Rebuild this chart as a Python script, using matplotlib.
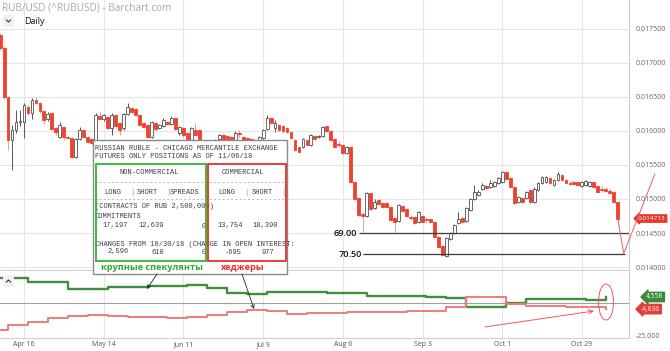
import numpy as np
import matplotlib
matplotlib.use("Agg")
import matplotlib.pyplot as plt
from matplotlib.patches import Rectangle, Ellipse, FancyBboxPatch
from matplotlib.transforms import blended_transform_factory

plt.rcParams['font.family'] = ['Open Sans', 'DejaVu Sans']

# ---------------- data ----------------
FIRST_IDX = -6   # trading-day index of first candle (0 = Apr 16, 2018)

open_ = np.array([
    0.017412, 0.017221, 0.016500, 0.015868, 0.016015, 0.016132, 0.016132, 0.016353, 0.016265, 0.016456,
    0.016412, 0.016294, 0.016176, 0.016265, 0.016044, 0.015912, 0.016059, 0.015912, 0.015897, 0.015618,
    0.015882, 0.016015, 0.015912, 0.015882, 0.015868, 0.016221, 0.016176, 0.016206, 0.016044, 0.016235,
    0.016118, 0.016044, 0.016250, 0.016338, 0.016324, 0.016235, 0.016118, 0.016088, 0.015912, 0.016118,
    0.016044, 0.016074, 0.016132, 0.016103, 0.016191, 0.015971, 0.016044, 0.015971, 0.015868, 0.016015,
    0.016015, 0.015838, 0.015779, 0.015824, 0.015765, 0.015882, 0.015941, 0.015926, 0.015912, 0.015868,
    0.015971, 0.015912, 0.015897, 0.015882, 0.015868, 0.015838, 0.015897, 0.016029, 0.016191, 0.016044,
    0.016088, 0.016074, 0.016044, 0.015985, 0.015868, 0.015765, 0.015765, 0.015868, 0.015794, 0.015926,
    0.015912, 0.015926, 0.016074, 0.016000, 0.015882, 0.015809, 0.015794, 0.015676, 0.015765, 0.015250,
    0.015015, 0.014779, 0.014750, 0.015088, 0.014868, 0.014985, 0.014941, 0.014941, 0.014882, 0.014721,
    0.014676, 0.014897, 0.014853, 0.014735, 0.014735, 0.014662, 0.014750, 0.014706, 0.014706, 0.014662,
    0.014441, 0.014309, 0.014162, 0.014412, 0.014500, 0.014647, 0.014721, 0.014676, 0.014838, 0.015000,
    0.015059, 0.015147, 0.015191, 0.015176, 0.015191, 0.015235, 0.015250, 0.015397, 0.015309, 0.015176,
    0.014956, 0.015015, 0.015015, 0.015132, 0.014956, 0.015132, 0.015235, 0.015250, 0.015309, 0.015206,
    0.015279, 0.015353, 0.015279, 0.015235, 0.015250, 0.015250, 0.015191, 0.015206, 0.015191, 0.015250,
    0.015191, 0.015147, 0.015147, 0.015118, 0.015103, 0.014956])

close = np.array([
    0.017221, 0.016500, 0.015868, 0.016015, 0.016132, 0.016147, 0.016382, 0.016265, 0.016456, 0.016412,
    0.016294, 0.016162, 0.016250, 0.016029, 0.015985, 0.016088, 0.015912, 0.015897, 0.015618, 0.015882,
    0.016015, 0.015912, 0.015838, 0.015824, 0.016235, 0.016176, 0.016235, 0.016044, 0.016235, 0.016074,
    0.016015, 0.016250, 0.016353, 0.016279, 0.016235, 0.016088, 0.016059, 0.015912, 0.016132, 0.016029,
    0.016088, 0.016162, 0.016103, 0.016191, 0.016029, 0.016059, 0.015941, 0.015868, 0.016044, 0.015941,
    0.015838, 0.015779, 0.015824, 0.015765, 0.015868, 0.015941, 0.015868, 0.015882, 0.015882, 0.015971,
    0.015956, 0.015868, 0.015838, 0.015824, 0.015824, 0.015912, 0.016015, 0.016191, 0.016118, 0.016118,
    0.016015, 0.016000, 0.015985, 0.015897, 0.015721, 0.015691, 0.015882, 0.015794, 0.015941, 0.015882,
    0.015926, 0.016059, 0.016000, 0.015868, 0.015765, 0.015794, 0.015676, 0.015765, 0.015250, 0.015000,
    0.014765, 0.014750, 0.015088, 0.014853, 0.014956, 0.014926, 0.014882, 0.014882, 0.014691, 0.014662,
    0.014912, 0.014824, 0.014750, 0.014721, 0.014647, 0.014809, 0.014662, 0.014691, 0.014662, 0.014441,
    0.014294, 0.014176, 0.014426, 0.014500, 0.014618, 0.014706, 0.014662, 0.014868, 0.015000, 0.015103,
    0.015103, 0.015206, 0.015162, 0.015235, 0.015250, 0.015309, 0.015397, 0.015294, 0.015176, 0.014941,
    0.015029, 0.014956, 0.015103, 0.014956, 0.015147, 0.015235, 0.015324, 0.015324, 0.015235, 0.015279,
    0.015368, 0.015279, 0.015235, 0.015221, 0.015221, 0.015206, 0.015250, 0.015265, 0.015250, 0.015176,
    0.015103, 0.015132, 0.015118, 0.015088, 0.014956, 0.014713])

high = np.array([
    0.017441, 0.017250, 0.016515, 0.016088, 0.016309, 0.016309, 0.016412, 0.016382, 0.016485, 0.016500,
    0.016426, 0.016309, 0.016279, 0.016279, 0.016059, 0.016132, 0.016074, 0.015926, 0.015912, 0.015897,
    0.016059, 0.016029, 0.015926, 0.015897, 0.016265, 0.016279, 0.016250, 0.016221, 0.016265, 0.016250,
    0.016132, 0.016265, 0.016412, 0.016353, 0.016338, 0.016250, 0.016132, 0.016103, 0.016147, 0.016132,
    0.016103, 0.016191, 0.016147, 0.016221, 0.016206, 0.016074, 0.016059, 0.015985, 0.016059, 0.016118,
    0.016029, 0.015853, 0.015853, 0.015838, 0.015882, 0.015956, 0.015956, 0.015941, 0.015926, 0.016000,
    0.016015, 0.015926, 0.015912, 0.015897, 0.015882, 0.015926, 0.016029, 0.016235, 0.016206, 0.016162,
    0.016103, 0.016088, 0.016059, 0.016000, 0.015882, 0.015779, 0.015897, 0.015882, 0.015956, 0.015941,
    0.015941, 0.016074, 0.016088, 0.016015, 0.015897, 0.015853, 0.015809, 0.015779, 0.015779, 0.015265,
    0.015029, 0.014809, 0.015103, 0.015103, 0.015000, 0.015000, 0.014956, 0.014956, 0.014897, 0.014735,
    0.014926, 0.014912, 0.014868, 0.014765, 0.014750, 0.014824, 0.014765, 0.014735, 0.014721, 0.014676,
    0.014456, 0.014324, 0.014441, 0.014515, 0.014632, 0.014809, 0.014735, 0.014882, 0.015015, 0.015206,
    0.015132, 0.015235, 0.015206, 0.015279, 0.015265, 0.015324, 0.015412, 0.015412, 0.015324, 0.015191,
    0.015044, 0.015029, 0.015118, 0.015147, 0.015176, 0.015250, 0.015338, 0.015338, 0.015324, 0.015294,
    0.015397, 0.015368, 0.015294, 0.015265, 0.015265, 0.015265, 0.015265, 0.015279, 0.015265, 0.015265,
    0.015206, 0.015191, 0.015176, 0.015147, 0.015118, 0.014971])

low = np.array([
    0.017191, 0.016471, 0.015721, 0.015426, 0.015971, 0.016074, 0.015897, 0.016235, 0.016176, 0.016397,
    0.016265, 0.016103, 0.016147, 0.016015, 0.015941, 0.015897, 0.015868, 0.015882, 0.015603, 0.015603,
    0.015868, 0.015897, 0.015824, 0.015794, 0.015853, 0.016162, 0.016147, 0.016015, 0.015941, 0.016044,
    0.015941, 0.016015, 0.016235, 0.016265, 0.016221, 0.016074, 0.016044, 0.015897, 0.015897, 0.016000,
    0.016029, 0.016059, 0.016088, 0.016088, 0.016015, 0.015941, 0.015912, 0.015853, 0.015853, 0.015926,
    0.015824, 0.015750, 0.015750, 0.015735, 0.015750, 0.015853, 0.015853, 0.015868, 0.015868, 0.015853,
    0.015897, 0.015853, 0.015824, 0.015809, 0.015809, 0.015824, 0.015882, 0.016015, 0.016103, 0.015985,
    0.016000, 0.015971, 0.015971, 0.015882, 0.015706, 0.015676, 0.015750, 0.015779, 0.015779, 0.015868,
    0.015897, 0.015912, 0.015985, 0.015853, 0.015750, 0.015765, 0.015662, 0.015662, 0.015235, 0.014985,
    0.014750, 0.014515, 0.014735, 0.014838, 0.014853, 0.014912, 0.014868, 0.014868, 0.014676, 0.014515,
    0.014662, 0.014809, 0.014735, 0.014691, 0.014632, 0.014647, 0.014647, 0.014647, 0.014647, 0.014426,
    0.014279, 0.014162, 0.014147, 0.014397, 0.014485, 0.014632, 0.014647, 0.014662, 0.014824, 0.014985,
    0.015044, 0.015132, 0.015132, 0.015162, 0.015176, 0.015221, 0.015235, 0.015279, 0.015162, 0.014926,
    0.014941, 0.014941, 0.015000, 0.014941, 0.014941, 0.015118, 0.015221, 0.015235, 0.015221, 0.015191,
    0.015265, 0.015265, 0.015221, 0.015206, 0.015206, 0.015191, 0.015176, 0.015191, 0.015176, 0.015162,
    0.015088, 0.015103, 0.015103, 0.015074, 0.014941, 0.014691])

date_ticks = [0, 20, 40, 60, 80, 100, 120, 140]
date_labels = ["Apr 16", "May 14", "Jun 11", "Jul 9", "Aug 6", "Sep 3", "Oct 1", "Oct 29"]
price_ticks = [0.0140, 0.0145, 0.0150, 0.0155, 0.0160, 0.0165, 0.0170, 0.0175]
levels_rub = ["69.00", "70.50"]
last_price = 0.014713

# COT net positions (weekly, Tuesdays) - trading-day index of each report
cot_idx = [-6.5] + list(range(-4, 147, 5))
noncomm_net = [18950, 18950, 15900, 15900, 10600, 10600, 12100, 12100, 12900, 12900,
               13600, 11400, 7600, 6800, 8300, 8300, 8000, 7600, 7600, 5300,
               5300, 5300, 4900, 3800, -3000, -3000, 300, 3400, 3000, 2800,
               2572, 4558]
comm_net = [-20500, -16700, -14400, -11400, -9900, -9100, -9900, -10600, -10600, -11000,
            -10600, -9100, -6800, -5300, -6100, -8300, -7900, -7600, -7200, -6800,
            -6500, -6100, -5700, -3000, 4500, 4500, -500, -2300, -2500, -2700,
            -2964, -4636]
cot_low_tick = -25000

# ---------------- figure ----------------
W, H = 670, 351
fig = plt.figure(figsize=(6.7, 3.51), dpi=100)
fig.patch.set_facecolor('white')


def fx(px):
    return px / W


def fy(py):
    return 1 - py / H


PX_PER_DAY = 3.985
XL = (0 - 24) / PX_PER_DAY
XR = (629 - 24) / PX_PER_DAY

ax = fig.add_axes([0, fy(270), fx(629), 270 / H])
ax2 = fig.add_axes([0, fy(338), fx(629), (338 - 271) / H])

GRID = '#e6e6e6'
RED = '#ec4330'

# ---- candles ----
n = len(close)
xs = np.arange(FIRST_IDX, FIRST_IDX + n)
up = close >= open_
doji = np.abs(close - open_) < 0.000012
body_lo = np.minimum(open_, close)
body_h = np.maximum(np.abs(close - open_), 0.000008)
face = np.where(up, 'white', RED).astype(object)
edge = np.where(up, '#505050', RED).astype(object)
wick = np.where(up, '#555555', '#f39a8f').astype(object)
face[doji] = '#222222'
edge[doji] = '#222222'
wick[doji] = '#333333'

ax.vlines(xs, low, high, colors=list(wick), lw=0.7, zorder=2)
ax.bar(xs, body_h, bottom=body_lo, width=0.72, color=list(face),
       edgecolor=list(edge), linewidth=0.6, zorder=3)

ax.set_xlim(XL, XR)
ax.set_ylim(0.013956, 0.017926)
ax.set_yticks(price_ticks)
ax.set_yticklabels(['%.6f' % p for p in price_ticks])
ax.yaxis.tick_right()
ax.tick_params(axis='y', length=0, pad=4.5, labelsize=5, labelcolor='#666666')
ax.set_xticks(date_ticks)
ax.tick_params(axis='x', length=0, labelbottom=False)
ax.grid(True, color=GRID, lw=0.8)
ax.set_axisbelow(True)
for s in ['top', 'left']:
    ax.spines[s].set_visible(False)
ax.spines['right'].set_color('#d0d0d0')
ax.spines['bottom'].set_color('#d0d0d0')
ax.spines['right'].set_linewidth(0.8)
ax.spines['bottom'].set_linewidth(0.8)

# level lines
lvl_start = [84.1, 85.1]
lvl_end = [XR, 150.8]
for lab, s, e in zip(levels_rub, lvl_start, lvl_end):
    p = 1.0 / float(lab)
    ax.hlines(p, s, e, color='#3a3a3a', lw=0.9, zorder=4)
    ax.text(s - 0.4, p, lab, ha='right', va='center', fontsize=6.6,
            color='#111111', fontweight='semibold', zorder=5)

# last-price tag
bt = blended_transform_factory(ax.transAxes, ax.transData)
ax.text(1.0143, last_price, '%.6f' % last_price, transform=bt, ha='left', va='center',
        fontsize=4.6, color='white', clip_on=False, zorder=6,
        bbox=dict(boxstyle='larrow,pad=0.18', fc='#e5392d', ec='#e5392d'))

# hand-drawn red V line
last_i = xs[-1]
ax.plot([last_i, last_i + 1.5, last_i + 9.3], [last_price, 0.014200, 0.015365],
        color='#f05a5a', lw=0.7, clip_on=False, zorder=7)

# ---- COT panel ----
ax2.step(cot_idx, noncomm_net, where='post', color='#3f8f3f', lw=1.7, zorder=3)
ax2.step(cot_idx, comm_net, where='post', color='#f07b7b', lw=1.4, zorder=3)
ax2.axhline(0, color='#a0a0a0', lw=0.8, zorder=2)
ax2.set_xlim(XL, XR)
ax2.set_ylim(-26530, 24256)
ax2.set_yticks([cot_low_tick])
ax2.set_yticklabels(['{:,}'.format(cot_low_tick)])
ax2.yaxis.tick_right()
ax2.tick_params(axis='y', length=0, pad=4.5, labelsize=5, labelcolor='#666666')
ax2.set_xticks(date_ticks)
ax2.set_xticklabels(date_labels)
ax2.tick_params(axis='x', length=0, pad=2.5, labelsize=5, labelcolor='#555555')
ax2.grid(True, axis='x', color=GRID, lw=0.8)
ax2.set_axisbelow(True)
for s in ['top', 'left']:
    ax2.spines[s].set_visible(False)
ax2.spines['right'].set_color('#d0d0d0')
ax2.spines['bottom'].set_color('#d0d0d0')
ax2.spines['right'].set_linewidth(0.8)
ax2.spines['bottom'].set_linewidth(0.8)

bt2 = blended_transform_factory(ax2.transAxes, ax2.transData)
ax2.text(1.027, noncomm_net[-1], '{:,}'.format(noncomm_net[-1]), transform=bt2,
         ha='left', va='center', fontsize=4.8, color='white', clip_on=False, zorder=6,
         bbox=dict(boxstyle='larrow,pad=0.18', fc='#3b8a3b', ec='#3b8a3b'))
ax2.text(1.019, comm_net[-1], '{:,}'.format(comm_net[-1]), transform=bt2,
         ha='left', va='center', fontsize=4.8, color='white', clip_on=False, zorder=6,
         bbox=dict(boxstyle='larrow,pad=0.18', fc='#e0403a', ec='#e0403a'))

# ---- overlay for annotations (pixel coordinates) ----
ov = fig.add_axes([0, 0, 1, 1], zorder=10)
ov.set_xlim(0, W)
ov.set_ylim(H, 0)
ov.axis('off')

ov.text(2, 8, 'RUB/USD (^RUBUSD) - Barchart.com', fontsize=7.2, color='#a8a8a8',
        va='center', ha='left')
ov.add_patch(FancyBboxPatch((3, 15), 11, 12, boxstyle='round,pad=0,rounding_size=2',
                            fc='#f1f1f1', ec='none'))
ov.plot([6.5, 8.5, 10.5], [20, 22, 20], color='#333333', lw=0.8)
ov.text(24, 22, 'Daily', fontsize=6.5, color='#111111', va='center', ha='left')

ov.add_patch(FancyBboxPatch((3, 275), 11, 12, boxstyle='round,pad=0,rounding_size=2',
                            fc='#f1f1f1', ec='none'))
ov.plot([6.5, 8.5, 10.5], [282, 280, 282], color='#333333', lw=0.8)

# table
ov.add_patch(Rectangle((93, 140), 194, 134, fc='white', ec='#8a8a8a', lw=1.0, zorder=1))
MONO = ['Liberation Mono', 'DejaVu Sans Mono']
TC = '#3c3c4c'
OR = '#d09a20'
clip = Rectangle((94, 141), 192, 132, transform=ov.transData)


def t(x, y, s, color=TC):
    tx = ov.text(x, y, s, family=MONO, fontsize=5, color=color, va='center',
                 ha='left', zorder=2)
    tx.set_clip_path(clip)


t(95, 148, 'RUSSIAN RUBLE - CHICAGO MERCANTILE EXCHANGE')
t(95, 156, 'FUTURES ONLY POSITIONS AS OF 11/06/18')
t(120, 173, 'NON-COMMERCIAL')
t(222, 173, 'COMMERCIAL')
t(95, 183, '-' * 46, '#888888')
t(104, 192, 'LONG')
t(130, 192, '|', OR)
t(137, 192, 'SHORT')
t(166, 192, '|', OR)
t(170, 192, 'SPREADS')
t(218, 192, 'LONG')
t(244, 192, '|', OR)
t(252, 192, 'SHORT')
t(281, 192, '|', OR)
t(95, 200, '-' * 46, '#888888')
t(95, 207, '(CONTRACTS OF RUB 2,500,000)')
t(95, 216, 'COMMITMENTS')
t(103, 226, '17,197')
t(139, 226, '12,639')
t(202, 226, '0')
t(218, 226, '13,754')
t(253, 226, '18,390')
t(95, 244, 'CHANGES FROM 10/30/18 (CHANGE IN OPEN INTEREST:')
t(107, 252, '2,596')
t(151, 252, '610')
t(202, 252, '0')
t(225, 252, '-695')
t(262, 252, '977')

ov.add_patch(Rectangle((96, 164), 110, 97, fc='none', ec='#2fb52f', lw=1.3, zorder=3))
ov.add_patch(Rectangle((208, 164), 77.5, 97, fc='none', ec='#ee2a2a', lw=1.3, zorder=3))
ov.text(152, 267, 'крупные спекулянты', color='#2fa82f', fontsize=6.6,
        fontweight='bold', ha='center', va='center', zorder=3)
ov.text(243, 267, 'хеджеры', color='#ee2a2a', fontsize=6.6,
        fontweight='bold', ha='center', va='center', zorder=3)

# arrows from labels
ov.annotate('', xy=(147, 289), xytext=(157, 274),
            arrowprops=dict(arrowstyle='->', color='#222222', lw=0.6,
                            mutation_scale=6, shrinkA=0, shrinkB=0))
ov.annotate('', xy=(254, 309), xytext=(242, 274),
            arrowprops=dict(arrowstyle='->', color='#222222', lw=0.6,
                            mutation_scale=6, shrinkA=0, shrinkB=0))
# red arrow and ellipse in COT panel
ov.annotate('', xy=(594, 311), xytext=(485, 327),
            arrowprops=dict(arrowstyle='->', color='#f05a5a', lw=0.7,
                            mutation_scale=8, shrinkA=0, shrinkB=0))
ov.add_patch(Ellipse((606, 302), 15, 36, fc='none', ec='#f05a5a', lw=0.7))

fig.savefig('out.png', dpi=100, facecolor='white')
